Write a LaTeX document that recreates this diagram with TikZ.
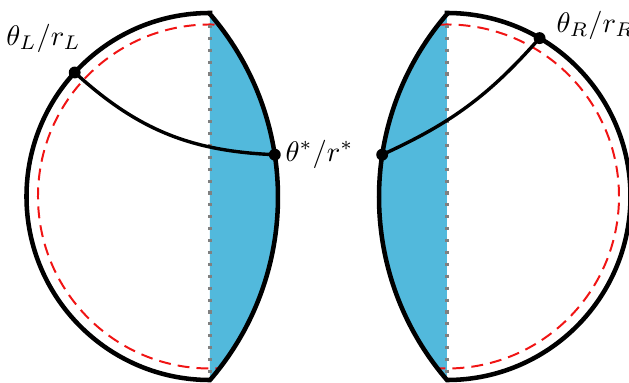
\documentclass[tikz,border=0pt]{standalone}
\usepackage{amsmath}
\definecolor{lensblue}{RGB}{82,185,220}
\definecolor{dashred}{RGB}{240,20,20}
\begin{document}
\begin{tikzpicture}[x=0.353pt,y=0.353pt,
  outline/.style={line width=1.6pt,line join=miter},
  redcirc/.style={draw=dashred,line width=0.7pt,dash pattern=on 4.2pt off 2.5pt},
  midline/.style={draw=gray,line width=1.1pt,dash pattern=on 1.1pt off 3.1pt},
  link/.style={line width=1.2pt},
  dot/.style={circle,fill=black,inner sep=0pt,minimum size=4.2pt},
  lbl/.style={inner sep=0pt}]
\useasboundingbox (0,0) rectangle (629,383);
% ---------- left shape ----------
\fill[lensblue] (210,370) -- (210,3) arc[start angle=-40.77,end angle=40.77,radius=98.91pt] -- cycle;
\begin{scope}
  \clip (210,370) arc[start angle=90,end angle=270,radius=64.78pt]
        arc[start angle=-40.77,end angle=40.77,radius=98.91pt] -- cycle;
  \draw[redcirc] (210,186.5) circle[radius=60.72pt];
\end{scope}
\coordinate (lt) at (210,370);
\coordinate (lb) at (210,3);
\draw[midline] (lt) -- (lb);
\draw[outline] (lt) arc[start angle=90,end angle=270,radius=64.78pt]
        arc[start angle=-40.77,end angle=40.77,radius=98.91pt] -- cycle;
% ---------- right shape ----------
\fill[lensblue] (447,370) -- (447,3) arc[start angle=220.77,end angle=139.23,radius=98.91pt] -- cycle;
\begin{scope}
  \clip (447,370) arc[start angle=90,end angle=-90,radius=64.78pt]
        arc[start angle=220.77,end angle=139.23,radius=98.91pt] -- cycle;
  \draw[redcirc] (447,186.5) circle[radius=60.72pt];
\end{scope}
\coordinate (rt) at (447,370);
\coordinate (rb) at (447,3);
\draw[midline] (rt) -- (rb);
\draw[outline] (rt) arc[start angle=90,end angle=-90,radius=64.78pt]
        arc[start angle=220.77,end angle=139.23,radius=98.91pt] -- cycle;
% ---------- points and links ----------
\node[dot] (tl) at (74.7,310.5) {};
\node[dot] (tsl) at (274.8,228.3) {};
\node[dot] (tsr) at (382.2,228.3) {};
\node[dot] (tr) at (539.6,344.9) {};
\draw[link] (tl.center) to[bend right=20] (tsl.center);
\draw[link] (tsr.center) to[bend right=12] (tr.center);
% ---------- labels ----------
\node[lbl] (labl) at (43.5,344.5) {$\theta_L/r_L$};
\node[lbl,anchor=west] (labs) at (285,229) {$\theta^*/r^*$};
\node[lbl,anchor=west] (labr) at (556,358) {$\theta_R/r_R$};
\end{tikzpicture}
\end{document}
